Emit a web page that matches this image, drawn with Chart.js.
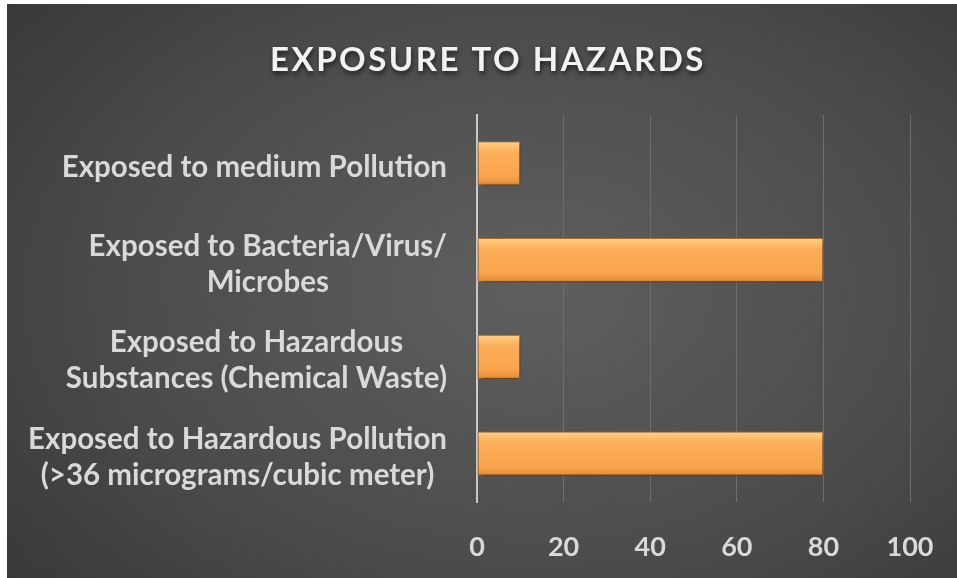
<!DOCTYPE html>
<html>
<head>
<meta charset="utf-8">
<script src="https://cdn.jsdelivr.net/npm/chart.js@4.4.1/dist/chart.umd.min.js"></script>
<style>
    html, body { margin: 0; padding: 0; background: #fff; }
    #wrap {
        position: absolute;
        left: 7px;
        top: 4px;
        width: 950px;
        height: 574px;
        background: radial-gradient(ellipse 75% 85% at 55% 50%, #5f5f5f 0%, #4c4c4c 55%, #363636 100%);
    }
</style>
</head>
<body>
<div id="wrap"><canvas id="myChart"></canvas></div>
<script>
const title = "EXPOSURE TO HAZARDS";

const categories = [
    ["Exposed to medium Pollution"],
    ["Exposed to Bacteria/Virus/", "Microbes"],
    ["Exposed to Hazardous", "Substances (Chemical Waste)"],
    ["Exposed to Hazardous Pollution", "(>36 micrograms/cubic meter)"],
];

const values = [10, 80, 10, 80];

const xMin = 0;
const xMax = 100;
const xStep = 20;

const labelFont = "bold 29.5px Lato";
const labelColor = "#d9d9d9";

// bar fill with a soft vertical bevel
function barFill(context) {
    const chart = context.chart;
    const y = chart.scales.y;
    if (!y || context.dataIndex === undefined) return "#fba954";
    const c = y.getPixelForValue(context.dataIndex);
    if (!isFinite(c)) return "#fba954";
    const half = 22;
    const g = chart.ctx.createLinearGradient(0, c - half, 0, c + half);
    g.addColorStop(0, "#ffcf8a");
    g.addColorStop(0.12, "#ffc06f");
    g.addColorStop(0.25, "#fdae5a");
    g.addColorStop(0.8, "#f9a44c");
    g.addColorStop(0.93, "#ea9440");
    g.addColorStop(1, "#c47a33");
    return g;
}

const shadowPlugin = {
    id: "barShadow",
    beforeDatasetsDraw(chart) {
        const ctx = chart.ctx;
        ctx.save();
        ctx.shadowColor = "rgba(0,0,0,0.55)";
        ctx.shadowBlur = 6;
        ctx.shadowOffsetX = 2;
        ctx.shadowOffsetY = 3;
    },
    afterDatasetsDraw(chart) {
        chart.ctx.restore();
    }
};

// category labels: each block right aligned, its lines centred
const labelPlugin = {
    id: "catLabels",
    afterDraw(chart) {
        const ctx = chart.ctx;
        const y = chart.scales.y;
        const right = chart.chartArea.left - 30;
        const lh = 36;
        ctx.save();
        ctx.font = labelFont;
        ctx.fillStyle = labelColor;
        ctx.textAlign = "center";
        ctx.textBaseline = "middle";
        categories.forEach((lines, i) => {
            const w = Math.max(...lines.map(l => ctx.measureText(l).width));
            const cx = right - w / 2;
            const cy = y.getPixelForValue(i) + 4;
            lines.forEach((l, k) => {
                ctx.fillText(l, cx, cy + (k - (lines.length - 1) / 2) * lh);
            });
        });
        ctx.restore();
    }
};

const titlePlugin = {
    id: "bigTitle",
    afterDraw(chart) {
        const ctx = chart.ctx;
        ctx.save();
        ctx.font = "bold 33px Lato";
        ctx.letterSpacing = "2.5px";
        ctx.fillStyle = "#f2f2f2";
        ctx.textAlign = "center";
        ctx.textBaseline = "middle";
        ctx.shadowColor = "rgba(0,0,0,0.6)";
        ctx.shadowBlur = 5;
        ctx.shadowOffsetX = 1;
        ctx.shadowOffsetY = 3;
        ctx.fillText(title, chart.width / 2 + 6, 56);
        ctx.restore();
    }
};

const chart = document.getElementById("myChart").getContext("2d");

let myChart = new Chart(chart, {
    type: "bar",
    data: {
        labels: categories,
        datasets: [
            {
                data: values,
                backgroundColor: barFill,
                borderColor: "#b8722e",
                borderWidth: 1,
                borderSkipped: false,
                categoryPercentage: 1,
                barPercentage: 0.455,
            }
        ],
    },
    plugins: [shadowPlugin, labelPlugin, titlePlugin],
    options: {
        indexAxis: "y",
        responsive: true,
        maintainAspectRatio: false,
        animation: false,
        layout: {
            padding: { left: 0, top: 111, right: 47, bottom: 0 }
        },
        plugins: {
            legend: { display: false },
            tooltip: { enabled: false },
        },
        scales: {
            x: {
                min: xMin,
                max: xMax,
                ticks: {
                    stepSize: xStep,
                    color: labelColor,
                    font: { family: "Lato", weight: "bold", size: 27 },
                    padding: 29,
                },
                grid: {
                    color: "#6e6e6e",
                    lineWidth: 1,
                    drawTicks: false,
                },
                border: { display: false },
                afterFit(scale) {
                    scale.height = 76;
                    scale.paddingLeft = 0;
                    scale.paddingRight = 0;
                },
            },
            y: {
                ticks: { display: false },
                grid: { display: false },
                border: { display: true, color: "#c9c9c9", width: 2 },
                afterFit(scale) { scale.width = 470; },
            }
        }
    },
});
</script>
</body>
</html>
